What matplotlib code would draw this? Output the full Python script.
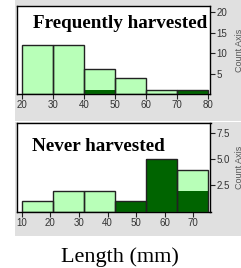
import numpy as np
import matplotlib.pyplot as plt
from matplotlib.patches import Rectangle

# data
freq_edges  = [20, 30, 40, 50, 60, 70, 80]
freq_total  = [12, 12, 6, 4, 1, 1]
freq_dark   = [0, 0, 1, 0, 0, 1]

never_edges = [10, 20.8, 31.7, 42.5, 53.3, 64.2, 75]
never_total = [1, 2, 2, 1, 5, 4]
never_dark  = [0, 0, 0, 1, 5, 2]

freq_ticks  = [20, 30, 40, 50, 60, 70, 80]
never_ticks = [10, 20, 30, 40, 50, 60, 70]
freq_yticks = [5, 10, 15, 20]
never_yticks = [2.5, 5.0, 7.5]

light = '#b8ffb8'
dark  = '#006400'
gray  = '#e0e0e0'

W, H = 241, 268
fig = plt.figure(figsize=(W/100, H/100), dpi=100)

# gray frames behind each panel
fig.patches.append(Rectangle((15/W, 1-120.5/H), 226/W, 120.5/H, transform=fig.transFigure,
                             facecolor=gray, edgecolor='none', zorder=-5))
fig.patches.append(Rectangle((15/W, 1-235.5/H), 226/W, 113.5/H, transform=fig.transFigure,
                             facecolor=gray, edgecolor='none', zorder=-5))


def panel(rect, edges, total, darkc, xticks, yticks, ytop, xlim, yfmt, title, tx, ty):
    ax = fig.add_axes(rect)
    ax.set_facecolor('white')
    e = np.array(edges)
    w = np.diff(e)
    ax.bar(e[:-1], total, width=w, align='edge', color=light, edgecolor='none', zorder=2)
    ax.bar(e[:-1], darkc, width=w, align='edge', color=dark, edgecolor='none', zorder=3)
    ax.bar(e[:-1], total, width=w, align='edge', fill=False, edgecolor='#222222',
           linewidth=1.0, zorder=4)
    ax.set_xlim(*xlim)
    ax.set_ylim(0, ytop)
    ax.set_xticks(xticks)
    ax.set_yticks(yticks)
    ax.set_yticklabels([yfmt.format(v) for v in yticks])
    ax.yaxis.tick_right()
    ax.tick_params(axis='both', direction='out', length=3.5, width=0.8, pad=1,
                   labelsize=7, colors='#222222', labelcolor='#333333')
    for s in ax.spines.values():
        s.set_color('black')
        s.set_linewidth(1.0)
    for lab in ax.get_xticklabels() + ax.get_yticklabels():
        lab.set_family('Liberation Sans')
    ax.text(tx, ty, title, transform=ax.transAxes, fontsize=13.8, fontweight='bold',
            family='Liberation Serif', va='baseline', ha='left', zorder=6)
    # "Count Axis" label, clipped by the right edge as in the original
    cy = rect[1] + rect[3] / 2
    fig.text(239.5/W, cy, 'Count Axis', rotation=90, ha='center', va='center',
             fontsize=6.5, color='#555555', family='Liberation Sans')
    return ax


panel([17.3/W, 1-94/H, 193.2/W, 88/H], freq_edges, freq_total, freq_dark,
      freq_ticks, freq_yticks, 21.5, (18.4, 80.7), '{:g}',
      'Frequently harvested', 0.081, 0.75)
panel([17.3/W, 1-211.5/H, 193.2/W, 88.2/H], never_edges, never_total, never_dark,
      never_ticks, never_yticks, 8.4, (8.46, 76.0), '{:.1f}',
      'Never harvested', 0.075, 0.69)

fig.text(120/W, 1-261.7/H, 'Length (mm)', ha='center', va='baseline',
         fontsize=16, family='Liberation Serif')

fig.savefig('out.png', dpi=100)
